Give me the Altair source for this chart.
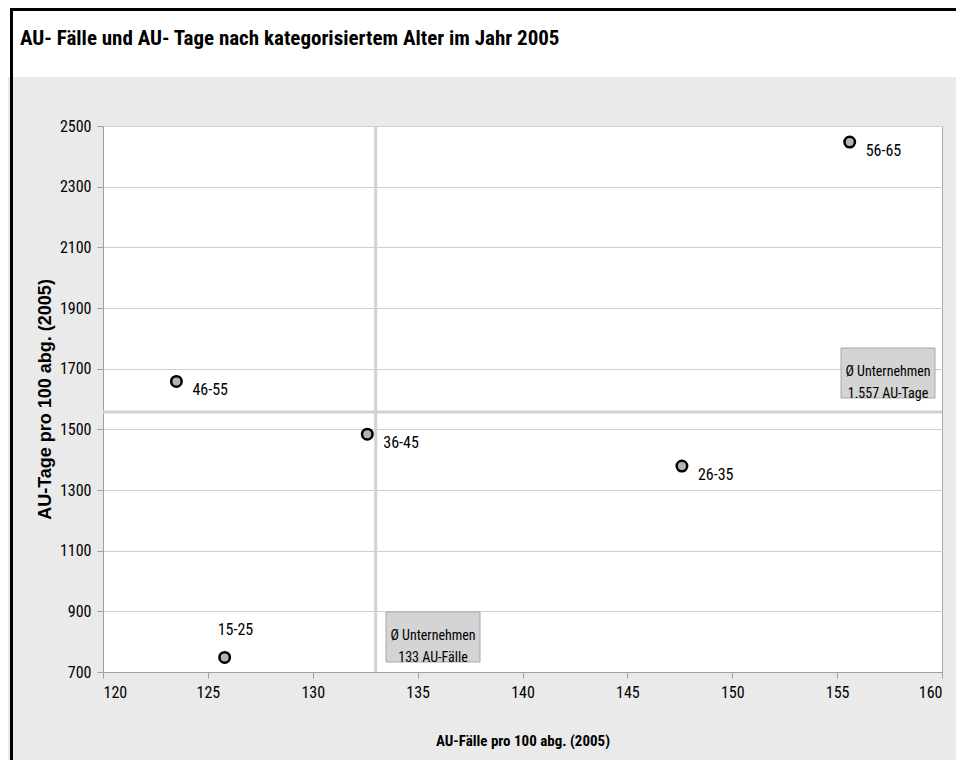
import altair as alt
import pandas as pd

# ---- data ----
categories = ["15-25", "26-35", "36-45", "46-55", "56-65"]
au_faelle = [125.8, 147.6, 132.6, 123.5, 155.6]
au_tage = [748, 1379, 1484, 1658, 2447]

avg_faelle = [133]
avg_tage = [1557]

x_ticks = [120, 125, 130, 135, 140, 145, 150, 155, 160]
y_ticks = [700, 900, 1100, 1300, 1500, 1700, 1900, 2100, 2300, 2500]

title_text = "AU- Fälle und AU- Tage nach kategorisiertem Alter im Jahr 2005"
x_title = "AU-Fälle pro 100 abg. (2005)"
y_title = "AU-Tage pro 100 abg. (2005)"
box_tage_lines = ["Ø Unternehmen", "1.557 AU-Tage"]
box_faelle_lines = ["Ø Unternehmen", "133 AU-Fälle"]

df = pd.DataFrame({"Alter": categories, "Faelle": au_faelle, "Tage": au_tage})
df_vx = pd.DataFrame({"v": avg_faelle})
df_hy = pd.DataFrame({"v": avg_tage})
one = pd.DataFrame({"k": [0]})

NARROW = "Liberation Sans Narrow, Arial Narrow, Roboto Condensed, DejaVu Sans Condensed, sans-serif"
BOLD = "Liberation Sans, Arial, Helvetica, sans-serif"

xscale = alt.Scale(domain=[120, 160], nice=False, zero=False)
yscale = alt.Scale(domain=[700, 2500], nice=False, zero=False)

# decorative page elements (white title band and black frame)
band = alt.Chart(one).mark_rect(color="white").encode(
    x=alt.value(-95), x2=alt.value(853), y=alt.value(-118), y2=alt.value(-49)
)
frame_left = alt.Chart(one).mark_rule(color="black", strokeWidth=3).encode(
    x=alt.value(-91.5), y=alt.value(-118), y2=alt.value(660)
)
frame_top = alt.Chart(one).mark_rule(color="black", strokeWidth=3).encode(
    x=alt.value(-93), x2=alt.value(853), y=alt.value(-116.5)
)
title = alt.Chart(one).mark_text(
    align="left", baseline="alphabetic", font=NARROW, fontSize=21,
    fontWeight="bold", color="black", text=title_text
).encode(x=alt.value(-83), y=alt.value(-81))

base = alt.Chart(df)

points_axes = base.mark_point(
    filled=False, opacity=1
).encode(
    x=alt.X("Faelle:Q", scale=xscale,
            axis=alt.Axis(title=x_title, values=x_ticks, grid=False, format="d",
                          titleY=68, titleBaseline="middle", titleFont=NARROW,
                          titleFontSize=15, titleFontWeight="bold")),
    y=alt.Y("Tage:Q", scale=yscale,
            axis=alt.Axis(title=y_title, values=y_ticks, grid=True, format="d",
                          titleX=-58, titleY=273, titleAngle=270, titleAlign="center",
                          titleBaseline="middle", titleFont=BOLD, titleFontSize=18,
                          titleFontWeight="bold")),
).transform_filter("false")

vline = alt.Chart(df_vx).mark_rule(color="#d2d2d2", strokeWidth=3).encode(
    x=alt.X("v:Q", scale=xscale)
)
hline = alt.Chart(df_hy).mark_rule(color="#d2d2d2", strokeWidth=3).encode(
    y=alt.Y("v:Q", scale=yscale)
)

dots = base.mark_circle(size=110, color="#b4b4b4", stroke="black",
                        strokeWidth=2.5, opacity=1).encode(
    x=alt.X("Faelle:Q", scale=xscale),
    y=alt.Y("Tage:Q", scale=yscale),
)

labels_right = base.mark_text(align="left", baseline="middle", dx=16, dy=9,
                              font=NARROW, fontSize=16, color="black").encode(
    x=alt.X("Faelle:Q", scale=xscale),
    y=alt.Y("Tage:Q", scale=yscale),
    text="Alter:N",
).transform_filter(alt.datum.Alter != "15-25")

labels_above = base.mark_text(align="left", baseline="middle", dx=-7, dy=-27,
                              font=NARROW, fontSize=16, color="black").encode(
    x=alt.X("Faelle:Q", scale=xscale),
    y=alt.Y("Tage:Q", scale=yscale),
    text="Alter:N",
).transform_filter(alt.datum.Alter == "15-25")

box1 = alt.Chart(one).mark_rect(fill="#d4d4d4", stroke="#a8a8a8", strokeWidth=1).encode(
    x=alt.value(738), x2=alt.value(832), y=alt.value(222), y2=alt.value(272)
)
box1_text = alt.Chart(one).mark_text(
    align="center", baseline="middle", font=NARROW, fontSize=14, lineHeight=22,
    color="black", text=box_tage_lines
).encode(x=alt.value(785), y=alt.value(246))

box2 = alt.Chart(one).mark_rect(fill="#d4d4d4", stroke="#a8a8a8", strokeWidth=1).encode(
    x=alt.value(283), x2=alt.value(377), y=alt.value(486), y2=alt.value(536)
)
box2_text = alt.Chart(one).mark_text(
    align="center", baseline="middle", font=NARROW, fontSize=14, lineHeight=22,
    color="black", text=box_faelle_lines
).encode(x=alt.value(330), y=alt.value(510))

chart = alt.layer(
    band, frame_left, frame_top, title, points_axes, vline, hline, dots,
    labels_right, labels_above, box1, box1_text, box2, box2_text
).properties(
    width=839, height=546,
    padding={"left": 95, "top": 118, "right": 14, "bottom": 88},
    autosize="none",
    background="#eaeaea",
).configure_view(
    fill="white", stroke="#a8a8a8", strokeWidth=1
).configure_axis(
    domainColor="#a0a0a0", tickColor="#a0a0a0", tickSize=6, labelPadding=6,
    labelFont=NARROW, labelFontSize=16, labelColor="black",
    gridColor="#cfcfcf", gridWidth=1.2, titleColor="black"
)

chart.save("out.html", embed_options={"renderer": "svg", "actions": False})
